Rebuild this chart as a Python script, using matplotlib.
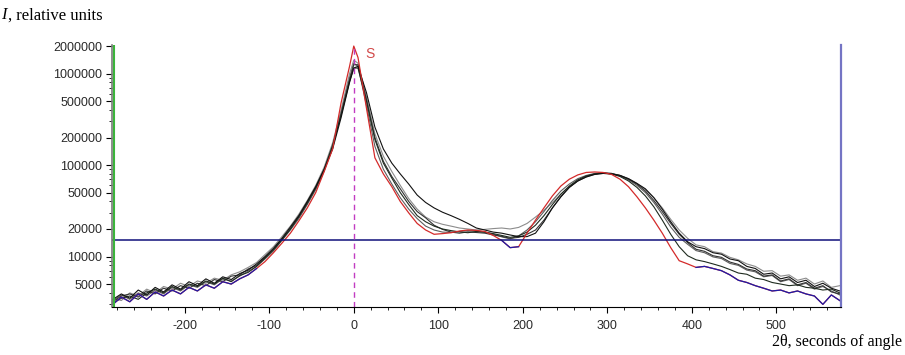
import matplotlib
matplotlib.use("Agg")
import numpy as np
import matplotlib.pyplot as plt
from matplotlib.ticker import FixedLocator, LogLocator, NullFormatter, MultipleLocator

# 2theta, seconds of angle
theta = [-285, -275, -265, -255, -245, -235, -225, -215, -205, -195,
         -185, -175, -165, -155, -145, -135, -125, -115, -105, -95,
         -85, -75, -65, -55, -45, -35, -25, -15, -5, 0,
         5, 15, 25, 35, 45, 55, 65, 75, 85, 95,
         105, 115, 125, 135, 145, 155, 165, 175, 185, 195,
         205, 215, 225, 235, 245, 255, 265, 275, 285, 295,
         305, 315, 325, 335, 345, 355, 365, 375, 385, 395,
         405, 415, 425, 435, 445, 455, 465, 475, 485, 495,
         505, 515, 525, 535, 545, 555, 565, 575]

# intensities, thousands of relative units
ref_s = [3.0, 3.6, 3.2, 3.9, 3.4, 4.1, 3.7, 4.3, 3.9, 4.6,
         4.2, 4.9, 4.5, 5.3, 5.0, 5.7, 6.3, 7.4, 8.8, 11.0,
         14.0, 18.0, 24.5, 34.0, 50.0, 85.0, 150.0, 480.0, 1200.0, 2000.0,
         1500.0, 420.0, 120.0, 80.0, 58.0, 40.0, 30.0, 23.0, 19.5, 17.5,
         17.8, 18.2, 19.0, 19.5, 19.3, 18.8, 17.0, 15.0, 12.5, 12.8,
         18.0, 25.0, 34.0, 46.0, 59.0, 70.0, 78.0, 83.0, 84.0, 83.0,
         79.0, 70.0, 58.0, 45.0, 34.0, 25.0, 18.0, 12.5, 9.0, 8.3,
         7.6, 7.8, 7.4, 7.0, 6.3, 5.5, 5.2, 4.8, 4.5, 4.2,
         4.3, 4.0, 4.2, 3.9, 3.7, 3.0, 3.8, 3.3]

sample_1 = [3.4, 3.9, 3.5, 4.3, 3.8, 4.6, 4.1, 4.9, 4.4, 5.3,
            4.8, 5.7, 5.1, 6.0, 5.6, 6.5, 7.1, 8.3, 10.0, 12.3,
            15.8, 21.0, 28.0, 40.0, 58.0, 90.0, 150.0, 330.0, 800.0, 1150.0,
            1200.0, 620.0, 260.0, 150.0, 105.0, 80.0, 62.0, 47.0, 39.0, 34.0,
            30.5, 28.0, 25.5, 23.0, 20.5, 19.5, 18.5, 18.0, 17.2, 16.5,
            16.5, 18.0, 24.0, 34.0, 45.0, 57.0, 67.0, 74.0, 79.0, 81.0,
            80.0, 77.0, 71.0, 63.0, 55.0, 44.0, 33.0, 24.0, 18.0, 14.5,
            12.8, 12.2, 11.0, 10.6, 9.4, 9.0, 7.8, 7.4, 6.4, 6.6,
            5.7, 6.0, 5.2, 5.5, 4.7, 5.1, 4.5, 4.2]

sample_2 = [3.2, 3.7, 3.9, 3.6, 4.2, 3.9, 4.5, 4.2, 4.8, 4.5,
            5.1, 4.8, 5.6, 5.3, 6.1, 6.3, 7.3, 8.0, 9.8, 12.0,
            15.5, 20.0, 27.0, 38.0, 56.0, 88.0, 160.0, 360.0, 850.0, 1250.0,
            1250.0, 520.0, 200.0, 110.0, 75.0, 55.0, 40.0, 31.0, 26.5, 22.0,
            19.8, 18.5, 18.0, 18.6, 18.3, 18.0, 17.2, 16.6, 15.8, 16.2,
            17.5, 19.5, 25.0, 34.0, 45.0, 57.0, 67.0, 75.0, 80.0, 82.0,
            81.0, 77.0, 70.0, 62.0, 52.0, 41.0, 31.0, 23.0, 17.5, 14.2,
            12.0, 11.4, 10.2, 9.8, 8.7, 8.2, 7.3, 7.0, 6.1, 6.3,
            5.4, 5.7, 4.9, 5.2, 4.5, 4.8, 4.1, 3.9]

sample_3 = [3.5, 3.3, 4.0, 3.7, 4.4, 4.0, 4.7, 4.4, 5.1, 4.7,
            5.4, 5.1, 5.8, 5.5, 6.3, 6.8, 7.6, 8.6, 10.5, 12.8,
            16.5, 21.5, 29.0, 41.0, 60.0, 95.0, 175.0, 400.0, 1000.0, 1400.0,
            1300.0, 560.0, 220.0, 125.0, 85.0, 60.0, 43.0, 33.0, 27.0, 24.0,
            22.5, 21.5, 20.5, 20.0, 19.5, 19.8, 20.2, 20.5, 20.0, 20.8,
            23.0, 27.0, 32.0, 39.0, 48.0, 58.0, 67.0, 74.0, 79.0, 81.0,
            80.0, 77.0, 71.0, 63.0, 54.0, 44.0, 34.0, 25.5, 19.5, 15.8,
            13.4, 12.8, 11.3, 10.9, 9.8, 9.2, 8.3, 7.8, 6.9, 7.0,
            6.1, 6.3, 5.5, 5.8, 5.0, 5.4, 4.6, 4.8]

sample_4 = [3.3, 3.8, 3.4, 4.0, 3.7, 4.3, 3.9, 4.6, 4.2, 4.9,
            4.6, 5.3, 4.9, 5.7, 5.4, 6.1, 6.9, 7.8, 9.4, 11.5,
            15.0, 19.5, 26.0, 37.0, 54.0, 86.0, 155.0, 370.0, 900.0, 1300.0,
            1200.0, 450.0, 160.0, 90.0, 62.0, 44.0, 33.0, 26.0, 21.5, 19.5,
            18.5, 18.3, 18.8, 19.2, 19.0, 18.4, 17.6, 16.4, 15.6, 16.8,
            19.5, 24.0, 31.0, 41.0, 52.0, 62.0, 71.0, 77.0, 81.0, 82.0,
            81.0, 76.0, 69.0, 60.0, 50.0, 39.0, 29.0, 21.0, 16.2, 13.6,
            11.6, 11.0, 9.9, 9.5, 8.4, 8.0, 7.1, 6.8, 6.0, 6.2,
            5.3, 5.6, 4.8, 5.1, 4.4, 4.7, 4.2, 3.8]

sample_5 = [3.1, 3.5, 3.7, 3.4, 4.0, 4.4, 4.0, 4.7, 4.3, 5.0,
            4.7, 5.4, 5.0, 5.8, 5.3, 6.2, 6.7, 7.8, 9.6, 11.8,
            15.2, 20.0, 27.5, 39.0, 57.0, 90.0, 165.0, 350.0, 820.0, 1150.0,
            1150.0, 500.0, 190.0, 105.0, 72.0, 50.0, 37.0, 28.0, 24.0, 21.5,
            20.0, 19.2, 18.6, 18.2, 18.8, 18.5, 17.8, 17.0, 16.2, 16.8,
            18.5, 22.0, 28.0, 37.0, 48.0, 59.0, 69.0, 76.0, 80.0, 82.0,
            80.0, 75.0, 67.0, 57.0, 46.0, 35.0, 25.0, 17.5, 12.8, 10.2,
            9.2, 8.8, 8.3, 7.8, 7.2, 6.6, 6.4, 5.8, 5.6, 5.2,
            5.0, 4.8, 4.9, 4.6, 4.5, 4.3, 4.4, 4.0]

samples = [sample_3, sample_4, sample_2, sample_5, sample_1]
sample_colors = ['#8c8c8c', '#5e5e5e', '#333333', '#1f2b1f', '#111111']

y_ticks = [5000, 10000, 20000, 50000, 100000, 200000, 500000, 1000000, 2000000]
x_ticks = [-200, -100, 0, 100, 200, 300, 400, 500]
threshold = 15000


def create_chart():
    plt.rcParams['axes.unicode_minus'] = False
    x = np.array(theta)
    fig = plt.figure(figsize=(9.05, 3.55), dpi=100)
    ax = fig.add_axes([0.1238, 0.135, 0.806, 0.738])

    for vals, c in zip(samples, sample_colors):
        ax.plot(x, np.array(vals) * 1000, color=c, lw=0.8)

    ref = np.array(ref_s) * 1000
    ax.plot(x, ref, color='#d42a2a', lw=0.9)
    # tails of the reference curve are drawn in blue
    for lo, hi in [(-300, -115), (175, 195), (405, 600)]:
        m = (x >= lo) & (x <= hi)
        ax.plot(x[m], ref[m], color='#1c1ca8', lw=0.9)

    ax.axhline(threshold, color='#10107a', lw=1.1)
    ax.axvline(0, color='#c23cc2', lw=1.0, ls=(0, (4, 3)))
    ax.axvline(-283.5, color='#3cb43c', lw=1.5)

    ax.set_yscale('log')
    ax.set_xlim(-286, 577)
    ax.set_ylim(2800, 2050000)

    ax.yaxis.set_major_locator(FixedLocator(y_ticks))
    ax.set_yticklabels([str(v) for v in y_ticks])
    ax.yaxis.set_minor_locator(LogLocator(base=10, subs=np.arange(2, 10) * 1.0, numticks=20))
    ax.yaxis.set_minor_formatter(NullFormatter())
    ax.set_xticks(x_ticks)
    ax.xaxis.set_minor_locator(MultipleLocator(20))

    ax.tick_params(axis='both', which='major', labelsize=9, labelcolor='#2a2a2a',
                   length=4, width=0.8, direction='out', pad=3)
    ax.tick_params(axis='both', which='minor', length=2.5, width=0.6, direction='out')
    ax.tick_params(axis='x', which='major', pad=5)
    for lab in ax.get_xticklabels() + ax.get_yticklabels():
        lab.set_family('Liberation Sans')

    ax.spines['top'].set_visible(False)
    ax.spines['left'].set_color('#7a7a7a')
    ax.spines['left'].set_linewidth(1.2)
    ax.spines['bottom'].set_color('#000000')
    ax.spines['right'].set_color('#7474c4')
    ax.spines['right'].set_linewidth(1.6)

    ax.text(14, 1650000, 'S', color='#d24a4a', fontsize=10, family='Liberation Sans',
            va='center')

    fig.text(0.001, 0.957, 'I', style='italic', family='Liberation Serif', fontsize=12,
             va='center')
    fig.text(0.009, 0.957, ', relative units', family='Liberation Serif', fontsize=12,
             va='center')
    fig.text(0.997, 0.037, '2\u03b8, seconds of angle', family='Liberation Serif',
             fontsize=11.5, va='center', ha='right')

    fig.savefig('out.png', dpi=100)


if __name__ == "__main__":
    create_chart()
